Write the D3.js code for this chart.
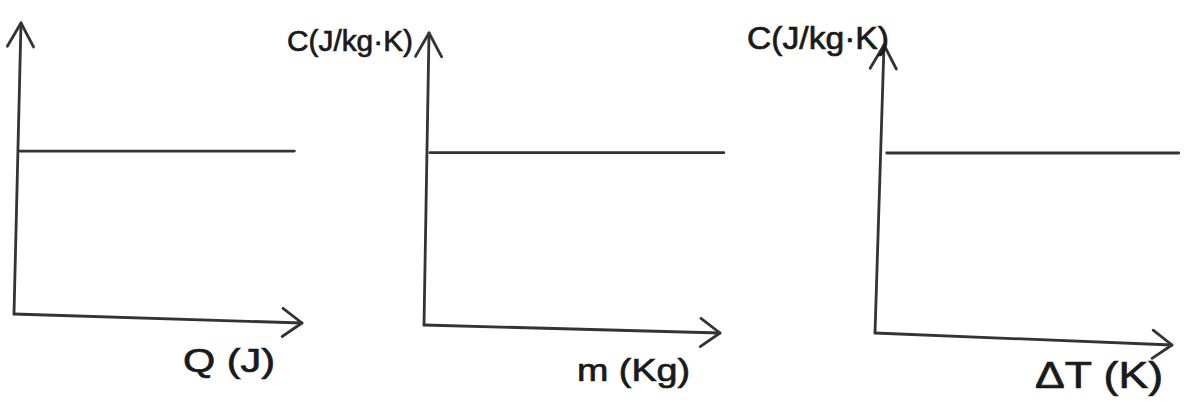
<!DOCTYPE html>
<html>
<head>
<meta charset="utf-8">
<script src="https://cdn.jsdelivr.net/npm/d3@7"></script>
<style>
  html, body { margin: 0; padding: 0; background: #fff; }
  svg { display: block; }
</style>
</head>
<body>
<svg id="chart" width="1184" height="404"></svg>
<script>
// ---- Data ----
const xLabels = ["Q (J)", "m (Kg)", "ΔT (K)"];
const yLabels = ["", "C(J/kg·K)", "C(J/kg·K)"];
// constant specific heat value, on a 0–10 relative axis
const cValues = [5.6, 5.9, 6.25];
// x extent of each constant line (relative 0–10 axis)
const lineStart = [0.1, 0.1, 0.3];
const lineEnd = [9.8, 10.2, 10.3];

// ---- Layout (positions of each hand-drawn panel) ----
const layout = [
  { ox: 14, oy: 314, tx: 21, ty: 23, ex: 302, ey: 323,
    xl: { x: 183, y: 372, w: 92, fs: 33 }, yl: null },
  { ox: 424, oy: 325, tx: 429, ty: 33, ex: 720, ey: 333,
    xl: { x: 577, y: 381, w: 113, fs: 31 }, yl: { x: 287, y: 51, w: 126, fs: 30 } },
  { ox: 875, oy: 333, tx: 884, ty: 45, ex: 1172, ey: 345,
    xl: { x: 1035, y: 388, w: 128, fs: 36 }, yl: { x: 747, y: 49, w: 142, fs: 31 } }
];

const ink = "#333333";
const textInk = "#1a1a1a";
const lw = 2.8;
const svg = d3.select("#chart");

function chevron(g, ax, ay, fromx, fromy, len, angDeg) {
  const a = Math.atan2(fromy - ay, fromx - ax);
  const t = angDeg * Math.PI / 180;
  const p1 = [ax + len * Math.cos(a + t), ay + len * Math.sin(a + t)];
  const p2 = [ax + len * Math.cos(a - t), ay + len * Math.sin(a - t)];
  g.append("path")
    .attr("d", d3.line()([p1, [ax, ay], p2]))
    .attr("fill", "none")
    .attr("stroke", ink)
    .attr("stroke-width", lw)
    .attr("stroke-linecap", "round")
    .attr("stroke-linejoin", "round");
}

function label(g, spec, txt) {
  g.append("text")
    .attr("x", spec.x).attr("y", spec.y)
    .attr("textLength", spec.w).attr("lengthAdjust", "spacingAndGlyphs")
    .attr("font-family", "'Liberation Sans', 'DejaVu Sans', sans-serif")
    .attr("font-size", spec.fs)
    .attr("fill", textInk)
    .attr("stroke", textInk)
    .attr("stroke-width", 0.7)
    .text(txt);
}

layout.forEach((L, i) => {
  const g = svg.append("g");
  const x = d3.scaleLinear().domain([0, 10]).range([L.ox + 3, L.ex - 2]);
  const y = d3.scaleLinear().domain([0, 10]).range([L.oy, L.ty]);

  // y axis
  g.append("path")
    .attr("d", d3.line()([[L.ox, L.oy], [L.tx, L.ty]]))
    .attr("stroke", ink).attr("stroke-width", lw).attr("fill", "none")
    .attr("stroke-linecap", "round");
  chevron(g, L.tx, L.ty, L.ox, L.oy, 27, 29);

  // x axis
  g.append("path")
    .attr("d", d3.line()([[L.ox, L.oy], [L.ex, L.ey]]))
    .attr("stroke", ink).attr("stroke-width", lw).attr("fill", "none")
    .attr("stroke-linecap", "round");
  chevron(g, L.ex, L.ey, L.ox, L.oy, 24, 36);

  // constant C line
  const pts = [lineStart[i], lineEnd[i]].map(v => [x(v), y(cValues[i])]);
  g.append("path")
    .attr("d", d3.line()(pts))
    .attr("stroke", ink).attr("stroke-width", lw).attr("fill", "none")
    .attr("stroke-linecap", "round");

  // labels
  label(g, L.xl, xLabels[i]);
  if (L.yl && yLabels[i]) label(g, L.yl, yLabels[i]);
});
</script>
</body>
</html>
